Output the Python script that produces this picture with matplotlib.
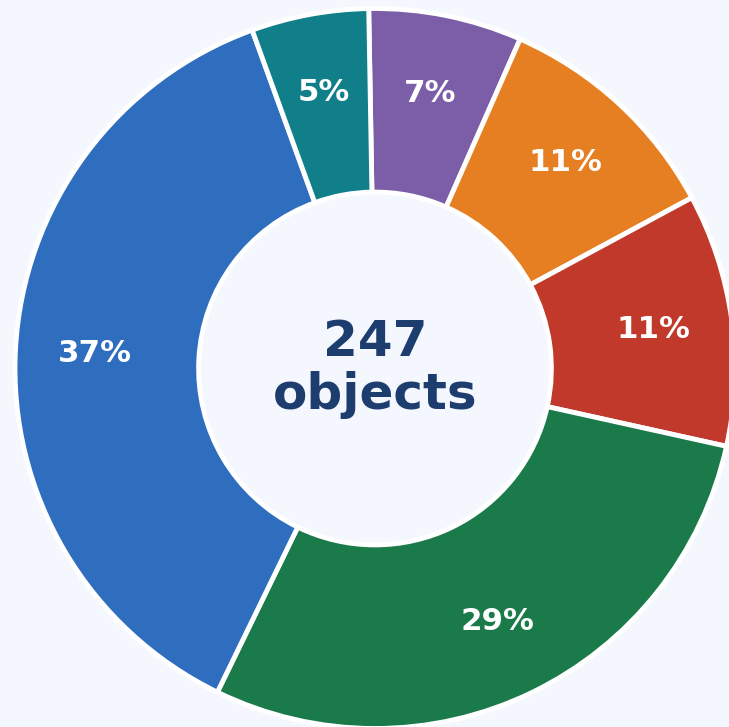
import matplotlib
matplotlib.use("Agg")
import matplotlib.pyplot as plt

labels = ["Purple", "Orange", "Red", "Green", "Blue", "Teal"]
counts = [17, 26, 28, 71, 92, 13]
colors = ["#7b5ea7", "#e67e22", "#c0392b", "#1b7a4a", "#2f6dbf", "#117f89"]
total = sum(counts)
center_text = f"{total}\nobjects"

bg = "#f4f7fe"
fig = plt.figure(figsize=(7.29, 7.27), dpi=100, facecolor=bg)
ax = fig.add_axes([0, 0, 1, 1])
ax.set_facecolor(bg)

wedges, texts, autotexts = ax.pie(
    counts, colors=colors, startangle=91, counterclock=False,
    autopct="%1.0f%%", pctdistance=0.78, radius=1.0,
    wedgeprops=dict(width=0.51, edgecolor="white", linewidth=3.5),
    textprops=dict(color="white", fontsize=22.2, fontweight="bold"),
)

ax.text(0, 0, center_text, ha="center", va="center", fontsize=36,
        fontweight="bold", color="#1c3d6e", linespacing=1.15)

R = 360.0
cx, cy = 375.0, 368.5
ax.set_xlim(-cx / R, (729 - cx) / R)
ax.set_ylim(-(727 - cy) / R, cy / R)
ax.set_aspect("auto")
ax.axis("off")

fig.savefig("out.png", dpi=100, facecolor=bg)
